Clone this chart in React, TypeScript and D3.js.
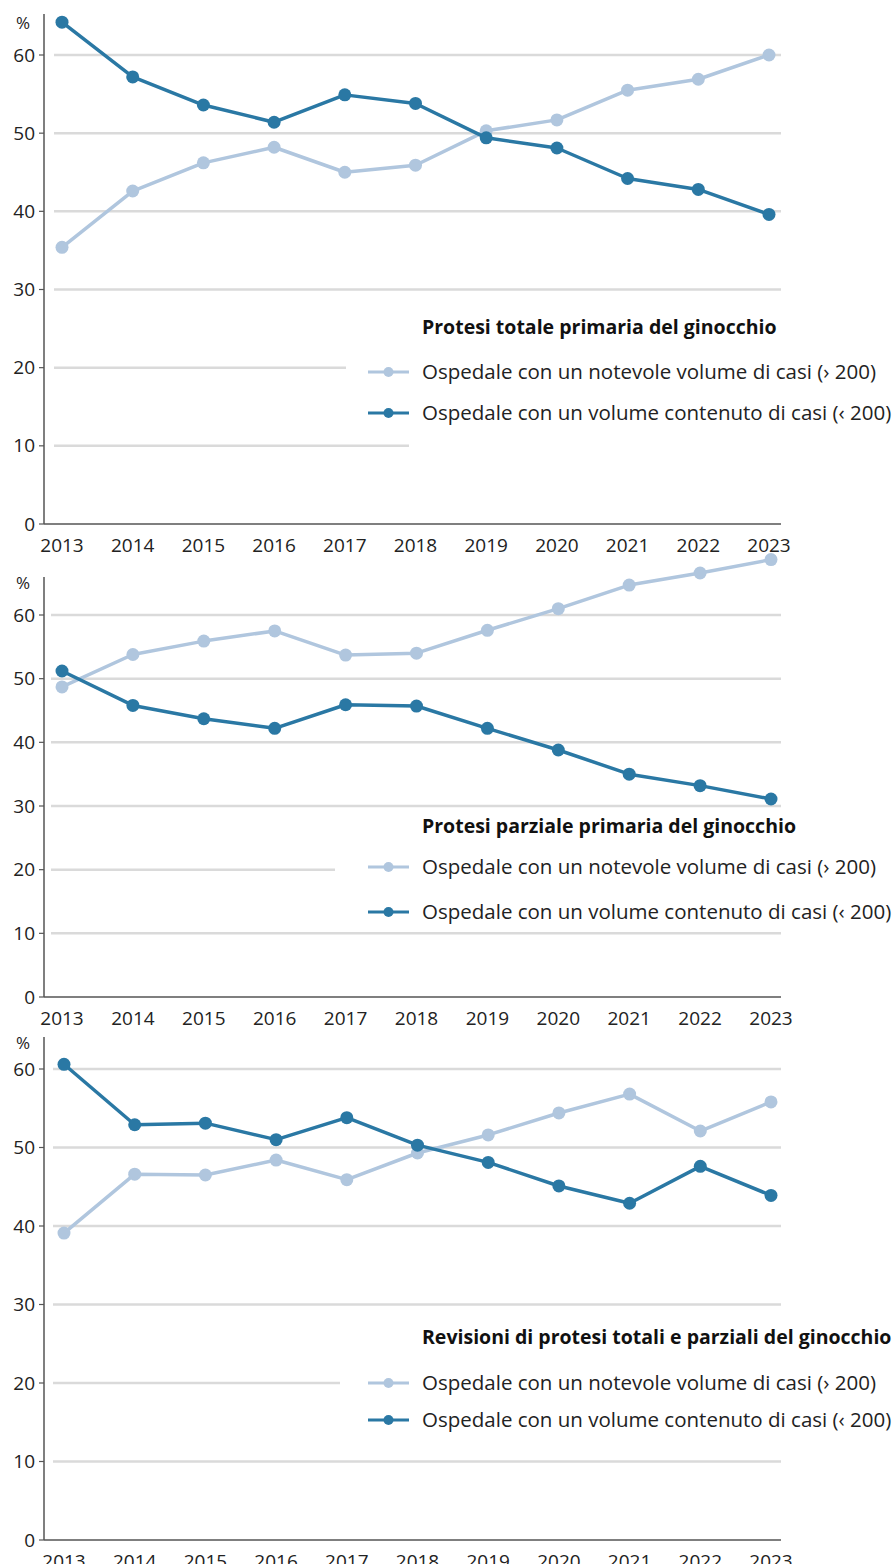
import React, { useEffect, useRef } from "react";
import * as d3 from "d3";

const years = [2013, 2014, 2015, 2016, 2017, 2018, 2019, 2020, 2021, 2022, 2023];
const yTicks = [0, 10, 20, 30, 40, 50, 60];

const seriesNames = [
  "Ospedale con un notevole volume di casi (\u203A 200)",
  "Ospedale con un volume contenuto di casi (\u2039 200)",
];

const titles = [
  "Protesi totale primaria del ginocchio",
  "Protesi parziale primaria del ginocchio",
  "Revisioni di protesi totali e parziali del ginocchio",
];

// Chart 1: total primary knee
const highTotal = [35.4, 42.6, 46.2, 48.2, 45.0, 45.9, 50.3, 51.7, 55.5, 56.9, 60.0];
const lowTotal = [64.2, 57.2, 53.6, 51.4, 54.9, 53.8, 49.4, 48.1, 44.2, 42.8, 39.6];

// Chart 2: partial primary knee
const highPartial = [48.7, 53.8, 55.9, 57.5, 53.7, 54.0, 57.6, 61.0, 64.7, 66.6, 68.7];
const lowPartial = [51.2, 45.8, 43.7, 42.2, 45.9, 45.7, 42.2, 38.8, 35.0, 33.2, 31.1];

// Chart 3: revisions
const highRevision = [39.1, 46.6, 46.5, 48.4, 45.9, 49.3, 51.6, 54.4, 56.8, 52.1, 55.8];
const lowRevision = [60.6, 52.9, 53.1, 51.0, 53.8, 50.3, 48.1, 45.1, 42.9, 47.6, 43.9];

const LIGHT = "#b0c6de";
const DARK = "#2a78a4";
const GRID = "#dadada";
const AXIS = "#555555";
const FONT = "'Open Sans', 'Noto Sans', sans-serif";

type Layout = {
  xLeft: number; xRight: number; axisX: number; axisTop: number; pctY: number;
  y0: number; y60: number; gridStart: number; gridEnd: number;
  legendX: number; legendTitleY: number; legendItemYs: number[];
  covers: { x: number; y: number; w: number; h: number }[];
};

const layouts: Layout[] = [
  {
    xLeft: 62, xRight: 769, axisX: 44, axisTop: 14, pctY: 23, y0: 524, y60: 55, gridStart: 54, gridEnd: 781,
    legendX: 368, legendTitleY: 327, legendItemYs: [372, 413],
    covers: [{ x: 346, y: 300, w: 560, h: 120 }, { x: 409, y: 420, w: 500, h: 36 }],
  },
  {
    xLeft: 62, xRight: 771, axisX: 44, axisTop: 577, pctY: 583, y0: 997, y60: 615, gridStart: 51, gridEnd: 781,
    legendX: 368, legendTitleY: 826, legendItemYs: [867, 912],
    covers: [{ x: 335, y: 850, w: 560, h: 40 }],
  },
  {
    xLeft: 64, xRight: 771, axisX: 44, axisTop: 1037, pctY: 1043, y0: 1540, y60: 1069, gridStart: 53, gridEnd: 781,
    legendX: 368, legendTitleY: 1337, legendItemYs: [1383, 1420],
    covers: [{ x: 340, y: 1365, w: 560, h: 40 }],
  },
];

const data = [
  [highTotal, lowTotal],
  [highPartial, lowPartial],
  [highRevision, lowRevision],
];

export default function App() {
  const ref = useRef<SVGSVGElement | null>(null);

  useEffect(() => {
    document.body.style.margin = "0";
    const svg = d3.select(ref.current);
    svg.selectAll("*").remove();

    layouts.forEach((L, ci) => {
      const g = svg.append("g");
      const x = d3.scaleLinear().domain([2013, 2023]).range([L.xLeft, L.xRight]);
      const y = d3.scaleLinear().domain([0, 60]).range([L.y0, L.y60]);

      // gridlines
      g.selectAll(".grid")
        .data(yTicks.filter((t) => t > 0))
        .enter()
        .append("line")
        .attr("x1", L.gridStart)
        .attr("x2", L.gridEnd)
        .attr("y1", (d) => y(d))
        .attr("y2", (d) => y(d))
        .attr("stroke", GRID)
        .attr("stroke-width", 2.5);

      // legend background covers
      L.covers.forEach((c) => {
        g.append("rect").attr("x", c.x).attr("y", c.y).attr("width", c.w).attr("height", c.h).attr("fill", "#fff");
      });

      // axes
      g.append("line")
        .attr("x1", L.axisX).attr("x2", L.axisX)
        .attr("y1", L.axisTop).attr("y2", L.y0)
        .attr("stroke", AXIS).attr("stroke-width", 1.5);
      g.append("line")
        .attr("x1", L.axisX).attr("x2", L.gridEnd)
        .attr("y1", L.y0).attr("y2", L.y0)
        .attr("stroke", AXIS).attr("stroke-width", 1.5);

      // y ticks
      yTicks.forEach((t) => {
        g.append("line")
          .attr("x1", L.axisX - 5).attr("x2", L.axisX)
          .attr("y1", y(t)).attr("y2", y(t))
          .attr("stroke", AXIS).attr("stroke-width", 1.2);
        g.append("text")
          .attr("x", L.axisX - 9)
          .attr("y", y(t))
          .attr("dy", "0.35em")
          .attr("text-anchor", "end")
          .attr("font-family", FONT)
          .attr("font-size", 19)
          .attr("fill", "#222")
          .text(String(t));
      });
      g.append("text")
        .attr("x", 23)
        .attr("y", L.pctY)
        .attr("dy", "0.35em")
        .attr("text-anchor", "middle")
        .attr("font-family", FONT)
        .attr("font-size", 17)
        .attr("fill", "#222")
        .text("%");

      // x labels
      years.forEach((yr) => {
        g.append("text")
          .attr("x", x(yr))
          .attr("y", L.y0 + 21)
          .attr("dy", "0.35em")
          .attr("text-anchor", "middle")
          .attr("font-family", FONT)
          .attr("font-size", 19)
          .attr("fill", "#222")
          .text(String(yr));
      });

      // series
      const colors = [LIGHT, DARK];
      data[ci].forEach((vals, si) => {
        const pts = vals.map((v, i) => [x(years[i]), y(v)] as [number, number]);
        g.append("path")
          .attr("d", d3.line()(pts) || "")
          .attr("fill", "none")
          .attr("stroke", colors[si])
          .attr("stroke-width", 3.5)
          .attr("stroke-linejoin", "round");
        g.selectAll(".pt" + si)
          .data(pts)
          .enter()
          .append("circle")
          .attr("cx", (d) => d[0])
          .attr("cy", (d) => d[1])
          .attr("r", 6.5)
          .attr("fill", colors[si]);
      });

      // legend
      g.append("text")
        .attr("x", L.legendX + 54)
        .attr("y", L.legendTitleY)
        .attr("dy", "0.35em")
        .attr("font-family", FONT)
        .attr("font-size", 19.5)
        .attr("font-weight", "bold")
        .attr("fill", "#111")
        .text(titles[ci]);
      seriesNames.forEach((name, si) => {
        const ly = L.legendItemYs[si];
        g.append("line")
          .attr("x1", L.legendX).attr("x2", L.legendX + 41)
          .attr("y1", ly).attr("y2", ly)
          .attr("stroke", colors[si]).attr("stroke-width", 3);
        g.append("circle")
          .attr("cx", L.legendX + 20.5).attr("cy", ly).attr("r", 5)
          .attr("fill", colors[si]);
        g.append("text")
          .attr("x", L.legendX + 54)
          .attr("y", ly)
          .attr("dy", "0.35em")
          .attr("font-family", FONT)
          .attr("font-size", 20.5)
          .attr("fill", "#222")
          .text(name);
      });
    });
  }, []);

  return <svg ref={ref} width={894} height={1564} style={{ display: "block" }} />;
}
